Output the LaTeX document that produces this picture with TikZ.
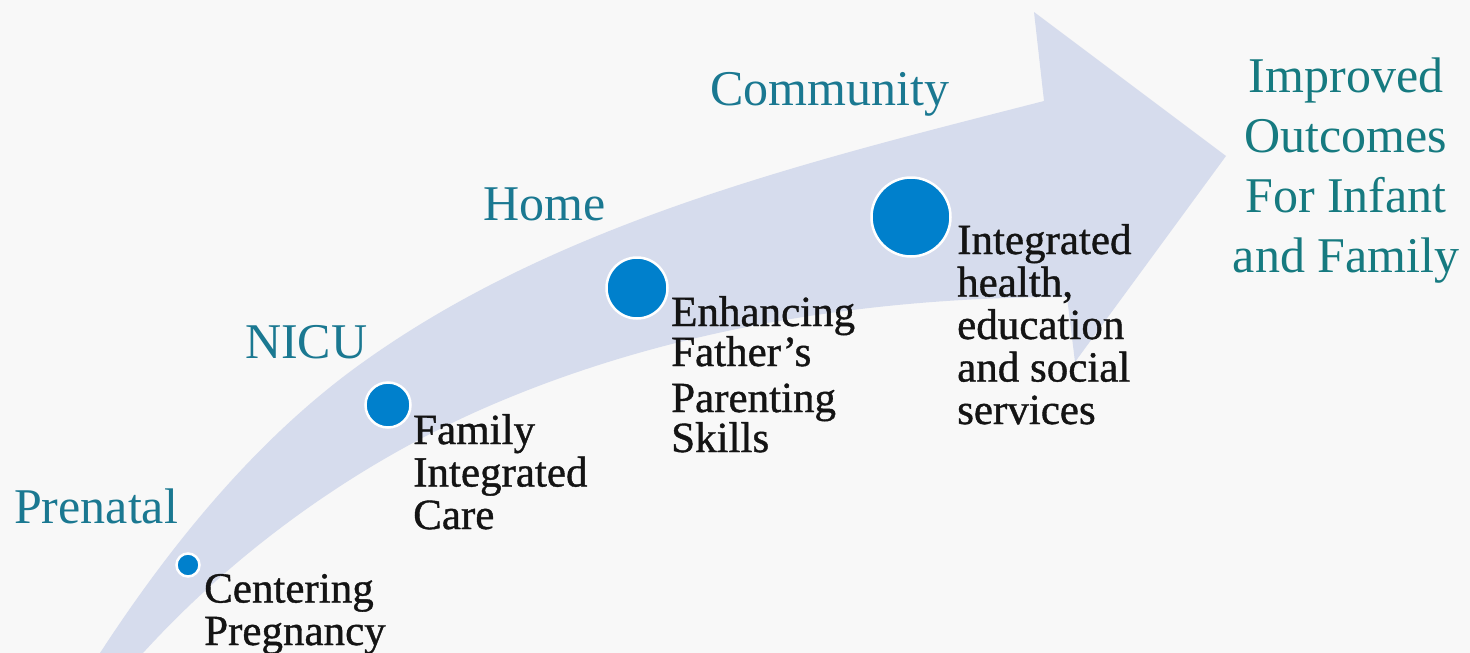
\documentclass[tikz,border=0pt]{standalone}
\usepackage{fontspec}
\setmainfont{Liberation Serif}
% slightly heavier face for the intervention labels
\newfontfamily\itemface[FakeBold=0.9]{Liberation Serif}
\definecolor{bgcol}{RGB}{248,248,248}
\definecolor{bandcol}{RGB}{214,220,237}
\definecolor{dotcol}{RGB}{0,128,204}
\definecolor{headcol}{RGB}{26,120,145}
\definecolor{goalcol}{RGB}{22,122,128}
\definecolor{bodycol}{RGB}{20,20,20}
\begin{document}
\begin{tikzpicture}[x=1pt,y=-1pt,
  stage/.style={anchor=base west, inner sep=0pt, text=headcol,
    font=\fontsize{50}{60}\selectfont},
  % multi-line nodes: the base anchor sits on the last line
  item/.style={anchor=base west, inner sep=0pt, align=left, text=bodycol,
    font=\itemface\fontsize{43}{42.5}\selectfont},
  milestone/.style={circle, fill=dotcol, draw=white, line width=2.5pt,
    inner sep=0pt, minimum size=#1},
]
% canvas
\fill[bgcol] (0,0) rectangle (1470,653);
\useasboundingbox (0,0) rectangle (1470,653);

% tapered curved arrow
\coordinate (tailL) at (100,653);
\coordinate (bendU) at (355,368);
\coordinate (notchU) at (1044,101);
\coordinate (headT) at (1034,12);
\coordinate (tip) at (1226,156);
\coordinate (headB) at (1075,362);
\coordinate (notchL) at (1067,297);
\coordinate (bendL) at (480,410);
\coordinate (tailR) at (143,653);
\fill[bandcol]
  (tailL) .. controls (169,547) and (253,443) .. (bendU)
  .. controls (553,223) and (806,162) .. (notchU)
  -- (headT) -- (tip) -- (headB) -- (notchL)
  .. controls (867,297) and (663,329) .. (bendL)
  .. controls (354,466) and (236,551) .. (tailR)
  -- cycle;

% milestones along the arrow
\node[milestone=23pt] (m1) at (188,565) {};
\node[milestone=45pt] (m2) at (388,405) {};
\node[milestone=61pt] (m3) at (637,288) {};
\node[milestone=79pt] (m4) at (911,217) {};

% stage headings
\node[stage] (prenatal)  at (14,523)  {Prenatal};
\node[stage] (nicu)      at (245,358) {NICU};
\node[stage] (home)      at (483,220) {Home};
\node[stage] (community) at (710,105) {Community};

% interventions
\node[item] (centering) at (204,645) {Centering\\Pregnancy};
\node[item] (fic)       at (413,529) {Family\\Integrated\\Care};
\node[item, font=\itemface\fontsize{43}{40}\selectfont] (father) at (671,452)
  {Enhancing\\Father’s\\[6pt]Parenting\\Skills};
\node[item] (services)  at (957,424)
  {Integrated\\health,\\education\\and social\\services};

% outcome
\node[anchor=base, align=center, inner sep=0pt, text=goalcol,
  font=\fontsize{50}{60}\selectfont] (goal) at (1346,272)
  {Improved\\Outcomes\\For Infant\\and Family};
\end{tikzpicture}
\end{document}
